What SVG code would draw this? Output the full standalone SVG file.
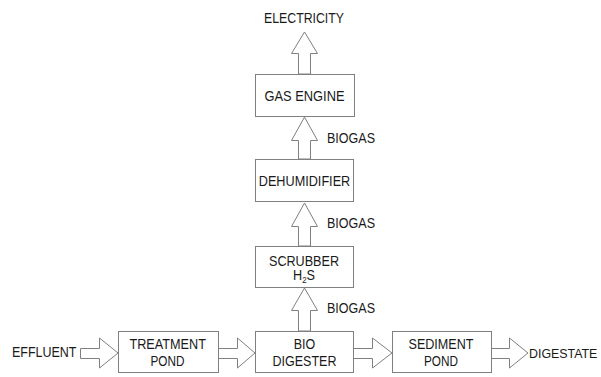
<svg xmlns="http://www.w3.org/2000/svg" width="601" height="377" viewBox="0 0 601 377">
<style>
.box{fill:#fff;stroke:#808080;stroke-width:1}
.arr{fill:#fff;stroke:#808080;stroke-width:1;stroke-linejoin:miter}
text{font-family:"Liberation Sans",Arial,sans-serif;font-size:14.5px;fill:#1a1a1a}
.c{text-anchor:middle}
</style>
<rect width="601" height="377" fill="#fff"/>
<g id="connectors">
<polygon class="arr" points="80.5,348.5 99.5,348.5 99.5,338 118,353 99.5,368 99.5,358.5 80.5,358.5"/>
<polygon class="arr" points="218.5,348.5 237.5,348.5 237.5,338 255,353 237.5,368 237.5,358.5 218.5,358.5"/>
<polygon class="arr" points="353.5,348.5 372.5,348.5 372.5,338 392,353 372.5,368 372.5,358.5 353.5,358.5"/>
<polygon class="arr" points="491.5,348.5 509.5,348.5 509.5,338 528,353 509.5,368 509.5,358.5 491.5,358.5"/>
<polygon class="arr" points="298.5,331 298.5,310.5 291.5,310.5 304.5,288 317.5,310.5 310.5,310.5 310.5,331"/>
<polygon class="arr" points="298.5,246 298.5,226.5 291.5,226.5 304.5,203 317.5,226.5 310.5,226.5 310.5,246"/>
<polygon class="arr" points="298.5,159 298.5,140.5 291.5,140.5 304.5,117 317.5,140.5 310.5,140.5 310.5,159"/>
<polygon class="arr" points="298.5,74 298.5,53.5 291.5,53.5 304.5,32 317.5,53.5 310.5,53.5 310.5,74"/>
<text x="327" y="143" textLength="48" lengthAdjust="spacingAndGlyphs">BIOGAS</text>
<text x="327" y="228" textLength="48" lengthAdjust="spacingAndGlyphs">BIOGAS</text>
<text x="327" y="313" textLength="48" lengthAdjust="spacingAndGlyphs">BIOGAS</text>
</g>
<g id="electricity"><text class="c" x="304" y="22.5" textLength="80" lengthAdjust="spacingAndGlyphs">ELECTRICITY</text></g>
<g id="gas-engine"><rect class="box" x="255.5" y="74.5" width="99" height="42"/><text class="c" x="304.5" y="100.5" textLength="80" lengthAdjust="spacingAndGlyphs">GAS ENGINE</text></g>
<g id="dehumidifier"><rect class="box" x="255.5" y="159.5" width="98" height="42"/><text class="c" x="304.5" y="186" textLength="91.5" lengthAdjust="spacingAndGlyphs">DEHUMIDIFIER</text></g>
<g id="scrubber"><rect class="box" x="255.5" y="246.5" width="98" height="41"/><text class="c" x="304" y="265.5" textLength="70" lengthAdjust="spacingAndGlyphs">SCRUBBER</text><text class="c" x="304" y="280" textLength="22" lengthAdjust="spacingAndGlyphs">H<tspan font-size="9" dy="3">2</tspan><tspan dy="-3">S</tspan></text></g>
<g id="effluent"><text x="12" y="357" textLength="64.5" lengthAdjust="spacingAndGlyphs">EFFLUENT</text></g>
<g id="treatment-pond"><rect class="box" x="118.5" y="331.5" width="100" height="41"/><text class="c" x="167.7" y="348.5" textLength="76.5" lengthAdjust="spacingAndGlyphs">TREATMENT</text><text class="c" x="167.5" y="366" textLength="34" lengthAdjust="spacingAndGlyphs">POND</text></g>
<g id="bio-digester"><rect class="box" x="255.5" y="331.5" width="98" height="41"/><text class="c" x="304.5" y="348.5" textLength="21.5" lengthAdjust="spacingAndGlyphs">BIO</text><text class="c" x="304.5" y="366" textLength="64" lengthAdjust="spacingAndGlyphs">DIGESTER</text></g>
<g id="sediment-pond"><rect class="box" x="392.5" y="331.5" width="99" height="41"/><text class="c" x="441" y="348.5" textLength="65" lengthAdjust="spacingAndGlyphs">SEDIMENT</text><text class="c" x="441" y="366" textLength="34" lengthAdjust="spacingAndGlyphs">POND</text></g>
<g id="digestate"><text x="529" y="357.5" style="font-size:12.4px">DIGESTATE</text></g>
</svg>
